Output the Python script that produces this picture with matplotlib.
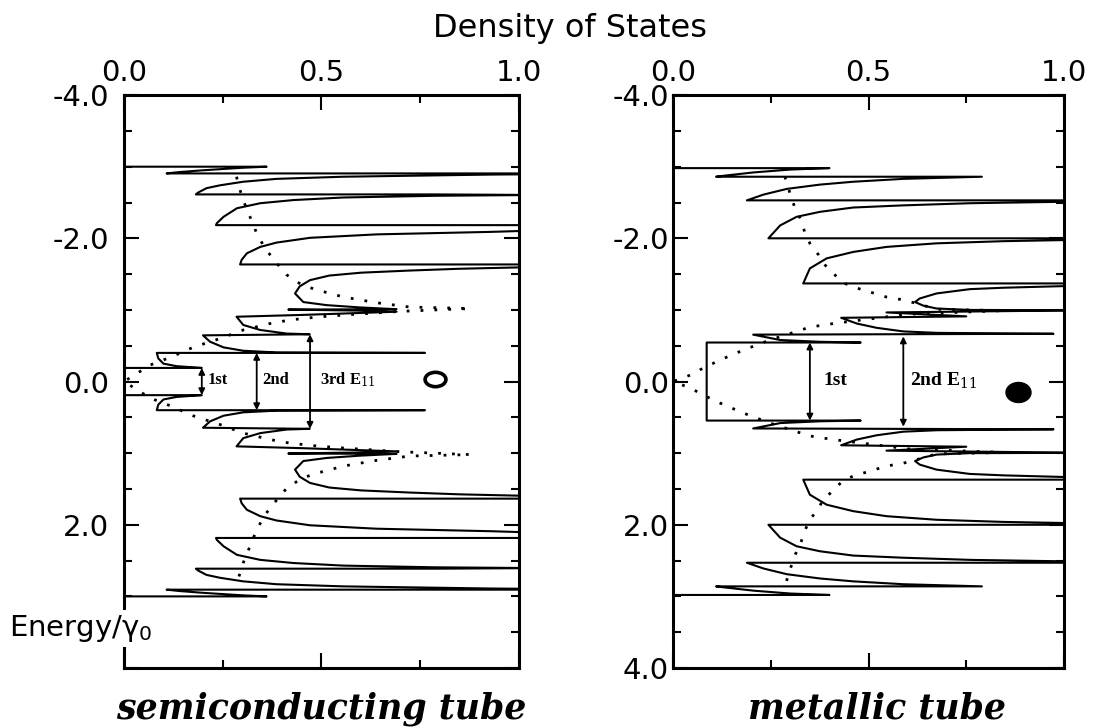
import matplotlib
matplotlib.use("Agg")
import matplotlib.pyplot as plt
import numpy as np
from matplotlib.path import Path
from matplotlib.transforms import Affine2D
from matplotlib.ticker import MultipleLocator, FixedLocator

# valence half (E < 0) of each curve; conduction half is the mirror
semi_dos = [0.0, 0.361, 0.30, 0.20, 0.14, 0.108,
            1.05, 1.05, 0.93, 0.555, 0.386, 0.302, 0.243, 0.209, 0.188, 0.182,
            0.79, 1.05, 0.79, 0.555, 0.429, 0.345, 0.286, 0.252, 0.235, 0.233,
            1.05, 1.05, 0.93, 0.64, 0.471, 0.386, 0.345, 0.311, 0.298, 0.294,
            1.05, 1.05, 0.85, 0.724, 0.60, 0.52, 0.471, 0.445, 0.433,
            0.454, 0.513, 0.597, 0.69,
            0.416, 0.60, 0.69, 0.45, 0.285,
            0.302, 0.345, 0.412, 0.47,
            0.2, 0.218, 0.252, 0.302, 0.387, 0.762,
            0.083, 0.087, 0.1, 0.133, 0.197, 0.0]
semi_energy = [-3.0, -3.0, -2.985, -2.95, -2.925, -2.906,
               -2.906, -2.895, -2.89, -2.86, -2.83, -2.79, -2.74, -2.70, -2.64, -2.613,
               -2.613, -2.605, -2.594, -2.57, -2.534, -2.49, -2.42, -2.30, -2.21, -2.184,
               -2.184, -2.11, -2.09, -2.055, -2.007, -1.94, -1.88, -1.79, -1.70, -1.635,
               -1.635, -1.60, -1.575, -1.55, -1.52, -1.48, -1.416, -1.33, -1.23,
               -1.11, -1.067, -1.035, -1.01,
               -1.005, -0.99, -0.975, -0.93, -0.905,
               -0.79, -0.72, -0.67, -0.66,
               -0.645, -0.556, -0.477, -0.43, -0.406, -0.40,
               -0.40, -0.322, -0.25, -0.215, -0.19, -0.19]

semi_dots_dos = [0.285, 0.29, 0.302, 0.319, 0.336, 0.357, 0.387, 0.412, 0.45, 0.488,
                 0.556, 0.64, 0.724, 0.876, 0.70, 0.56, 0.488, 0.42, 0.37, 0.302,
                 0.243, 0.176, 0.118, 0.066, 0.032, 0.0]
semi_dots_energy = [-2.86, -2.74, -2.53, -2.30, -2.07, -1.86, -1.65, -1.49, -1.35, -1.28,
                    -1.18, -1.10, -1.04, -1.02, -0.98, -0.93, -0.90, -0.86, -0.81, -0.72,
                    -0.60, -0.48, -0.34, -0.23, -0.11, 0.0]

metal_dos = [0.0, 0.40, 0.30, 0.206, 0.14, 0.11,
             0.79, 0.589, 0.461, 0.376, 0.291, 0.231, 0.189,
             1.05, 1.05, 0.998, 0.76, 0.589, 0.461, 0.376, 0.316, 0.274, 0.244,
             1.05, 1.05, 0.845, 0.674, 0.546, 0.461, 0.393, 0.35, 0.333,
             1.05, 1.05, 0.845, 0.759, 0.674, 0.631, 0.619, 0.64, 0.674, 0.759, 1.05,
             0.546, 0.75, 0.43, 0.47, 0.521, 0.589, 0.674, 0.845, 0.973,
             0.205, 0.274, 0.376, 0.48, 0.086]
metal_energy = [-2.98, -2.98, -2.96, -2.92, -2.88, -2.86,
                -2.86, -2.83, -2.79, -2.75, -2.69, -2.61, -2.53,
                -2.53, -2.515, -2.51, -2.49, -2.46, -2.43, -2.37, -2.30, -2.18, -2.0,
                -2.0, -1.98, -1.96, -1.93, -1.88, -1.81, -1.72, -1.58, -1.37,
                -1.37, -1.34, -1.31, -1.29, -1.23, -1.16, -1.11, -1.06, -1.02, -1.0, -0.995,
                -0.965, -0.91, -0.89, -0.81, -0.75, -0.70, -0.68, -0.672, -0.667,
                -0.655, -0.58, -0.555, -0.545, -0.545]

metal_dots_dos = [0.286, 0.299, 0.312, 0.325, 0.338, 0.35, 0.372, 0.384, 0.402, 0.419,
                  0.44, 0.461, 0.504, 0.546, 0.589, 0.623, 0.674, 0.845, 0.60, 0.41,
                  0.35, 0.299, 0.248, 0.18, 0.12, 0.078, 0.044, 0.0]
metal_dots_energy = [-2.86, -2.63, -2.42, -2.28, -2.07, -1.93, -1.77, -1.65, -1.56, -1.46,
                     -1.37, -1.32, -1.25, -1.18, -1.14, -1.09, -1.01, -0.99, -0.94, -0.81,
                     -0.76, -0.67, -0.58, -0.44, -0.30, -0.19, -0.09, 0.0]

# E_ii transitions drawn as double arrows
semi_eii = [0.19, 0.40, 0.66]
semi_arrow_x = [0.197, 0.336, 0.471]
semi_labels = ["1st", "2nd", "3rd E$_{11}$"]
semi_label_x = [0.212, 0.35, 0.497]
metal_eii = [0.545, 0.63]
metal_arrow_x = [0.35, 0.589]
metal_labels = ["1st", "2nd E$_{11}$"]
metal_label_x = [0.385, 0.605]

dos_ticks = [0.0, 0.5, 1.0]
energy_ticks = [-4.0, -2.0, 0.0, 2.0, 4.0]
semi_energy_labels = ["-4.0", "-2.0", "0.0", "2.0", ""]
metal_energy_labels = ["-4.0", "-2.0", "0.0", "2.0", "4.0"]


def mirror(dos, energy):
    d = np.asarray(dos)
    e = np.asarray(energy)
    return np.concatenate([d, d[::-1]]), np.concatenate([e, -e[::-1]])


def ellipse_marker(sx, sy):
    return Path.unit_circle().transformed(Affine2D().scale(sx, sy))


def setup_axis(ax, ylabels, ypad):
    ax.set_xlim(0, 1)
    ax.set_ylim(4, -4)
    ax.xaxis.set_major_locator(FixedLocator(dos_ticks))
    ax.xaxis.set_minor_locator(MultipleLocator(0.25))
    ax.yaxis.set_major_locator(FixedLocator(energy_ticks))
    ax.yaxis.set_minor_locator(MultipleLocator(0.5))
    ax.set_xticklabels(["%.1f" % t for t in dos_ticks])
    ax.set_yticklabels(ylabels)
    ax.tick_params(which="both", direction="in", top=True, right=True,
                   labeltop=True, labelbottom=False, width=1.5, color="black")
    ax.tick_params(which="major", length=11, labelsize=21)
    ax.tick_params(which="minor", length=6)
    ax.tick_params(axis="x", which="major", pad=6)
    ax.tick_params(axis="y", which="major", pad=ypad)
    for s in ax.spines.values():
        s.set_linewidth(2.2)


def draw_arrows(ax, eii, xs, labels, label_x, fs):
    for e, x in zip(eii, xs):
        ax.annotate("", xy=(x, -e), xytext=(x, e),
                    arrowprops=dict(arrowstyle="<|-|>", lw=1.3, color="black",
                                    mutation_scale=9, shrinkA=0, shrinkB=0))
    for lab, x in zip(labels, label_x):
        ax.text(x, -0.02, lab, ha="left", va="center", fontsize=fs,
                fontweight="bold", family="Liberation Serif")


def main():
    plt.rcParams["font.family"] = ["DejaVu Sans"]
    plt.rcParams["mathtext.fontset"] = "dejavuserif"
    fig = plt.figure(figsize=(11.01, 7.28), dpi=100)

    ax1 = fig.add_axes([0.1126, 0.0824, 0.3588, 0.787])
    ax2 = fig.add_axes([0.6113, 0.0824, 0.3551, 0.787])

    # semiconducting tube
    setup_axis(ax1, semi_energy_labels, 11)
    x, y = mirror(semi_dos, semi_energy)
    ax1.plot(x, y, color="black", lw=1.5)
    x, y = mirror(semi_dots_dos, semi_dots_energy)
    ax1.plot(x, y, color="black", lw=2.0, linestyle=(0, (1, 4)))
    draw_arrows(ax1, semi_eii, semi_arrow_x, semi_labels, semi_label_x, 12)
    ax1.plot([0.787], [-0.03], marker=ellipse_marker(1.45, 1.0), ms=15,
             mfc="white", mec="black", mew=2.6, linestyle="none")
    ax1.text(-0.29, 3.45, "Energy/γ$_\\mathregular{0}$", fontsize=21,
             ha="left", va="center", zorder=5, clip_on=False,
             bbox=dict(facecolor="white", edgecolor="none", pad=2))

    # metallic tube
    setup_axis(ax2, metal_energy_labels, 3)
    x, y = mirror(metal_dos, metal_energy)
    ax2.plot(x, y, color="black", lw=1.5)
    x, y = mirror(metal_dots_dos, metal_dots_energy)
    ax2.plot(x, y, color="black", lw=2.0, linestyle=(0, (1, 4)))
    draw_arrows(ax2, metal_eii, metal_arrow_x, metal_labels, metal_label_x, 14)
    ax2.plot([0.883], [0.14], marker=ellipse_marker(1.25, 1.0), ms=18,
             color="black", linestyle="none")

    fig.text(0.518, 0.9615, "Density of States", ha="center", va="center", fontsize=23)
    fig.text(0.292, 0.027, "semiconducting tube", ha="center", va="center",
             fontsize=25, family="DejaVu Serif", fontweight="bold", style="italic")
    fig.text(0.797, 0.027, "metallic tube", ha="center", va="center",
             fontsize=25, family="DejaVu Serif", fontweight="bold", style="italic")

    fig.savefig("out.png", dpi=100)


if __name__ == "__main__":
    main()
